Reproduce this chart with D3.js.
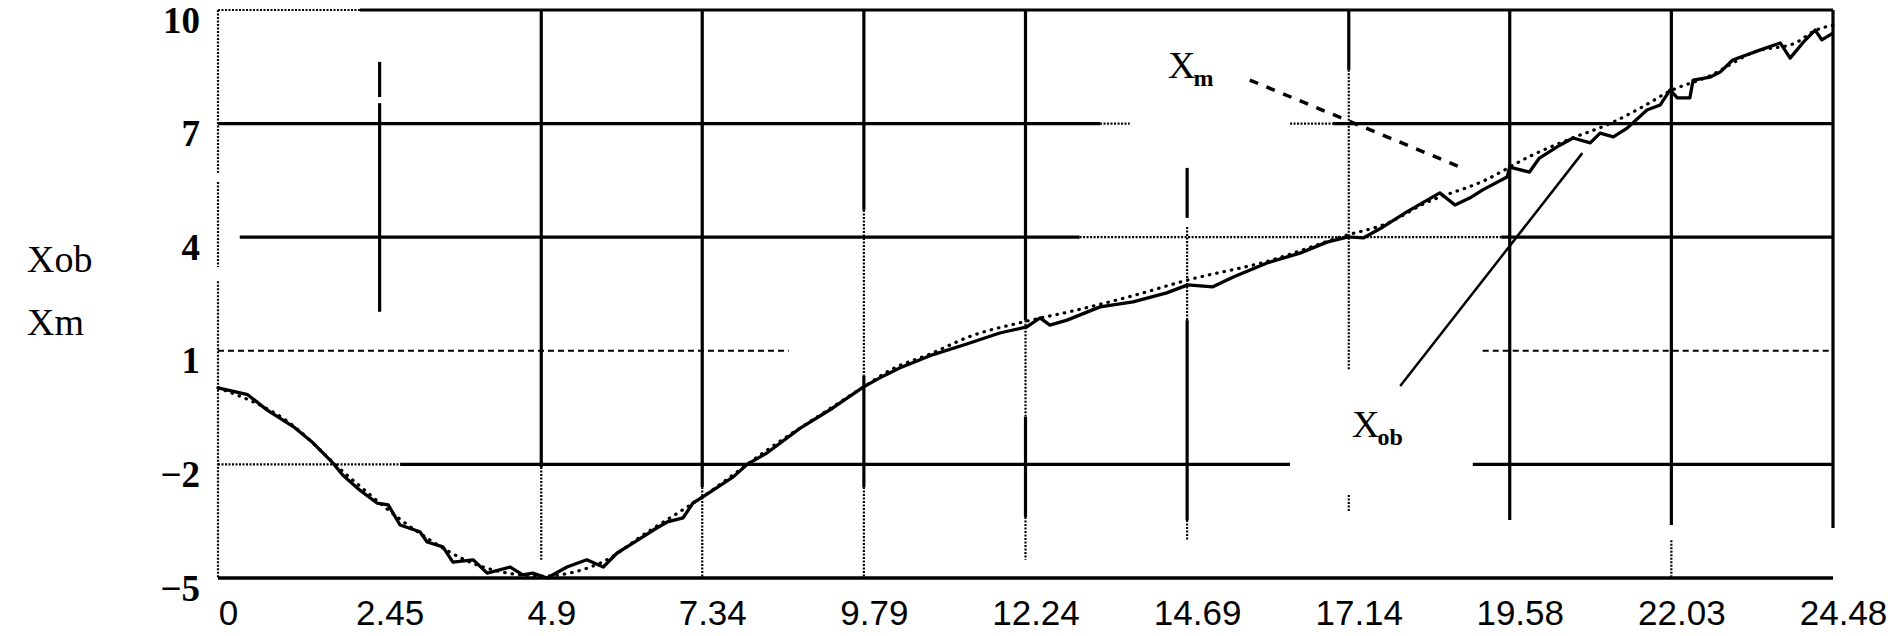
<!DOCTYPE html>
<html>
<head>
<meta charset="utf-8">
<script src="https://cdn.jsdelivr.net/npm/d3@7"></script>
<style>
  html, body { margin: 0; padding: 0; background: #fff; }
  svg { display: block; }
</style>
</head>
<body>
<svg id="chart" width="1900" height="636"></svg>
<script>
// ---------------- data ----------------
const xTickValues = [0, 2.45, 4.9, 7.34, 9.79, 12.24, 14.69, 17.14, 19.58, 22.03, 24.48];
const xTickLabels = ["0", "2.45", "4.9", "7.34", "9.79", "12.24", "14.69", "17.14", "19.58", "22.03", "24.48"];
const yTickValues = [10, 7, 4, 1, -2, -5];
const yTickLabels = ["10", "7", "4", "1", "\u22122", "\u22125"];
const yTitleLines = ["Xob", "Xm"];

// Xob (observed, solid)
const xobT = [0, 0.45, 0.74, 1.14, 1.44, 1.74, 1.89, 2.15, 2.41, 2.58, 2.76, 3.06, 3.17, 3.41, 3.56, 3.87, 4.08, 4.43, 4.62, 4.77,
  4.99, 5.29, 5.59, 5.84, 6.05, 6.29, 6.65, 6.81, 7.05, 7.20, 7.35, 7.81, 8.02, 8.32, 8.82, 9.32, 9.78, 10.08, 10.34, 10.84,
  11.35, 11.85, 12.26, 12.46, 12.61, 12.87, 13.37, 13.87, 14.38, 14.70, 15.08, 15.39, 15.90, 16.40, 16.81, 17.13, 17.36, 17.66, 18.02, 18.52,
  18.75, 18.98, 19.17, 19.54, 19.58, 19.88, 20.03, 20.34, 20.54, 20.80, 20.95, 21.15, 21.36, 21.66, 21.86, 22.01, 22.12, 22.31, 22.36, 22.62,
  22.77, 22.96, 23.37, 23.68, 23.83, 24.03, 24.21, 24.31, 24.48];
const xobV = [0.02, -0.16, -0.56, -1.0, -1.43, -1.96, -2.28, -2.68, -3.02, -3.07, -3.6, -3.78, -4.05, -4.18, -4.58, -4.52, -4.87, -4.71, -4.92, -4.87,
  -5.0, -4.71, -4.52, -4.71, -4.34, -4.08, -3.68, -3.52, -3.41, -3.02, -2.86, -2.33, -2.0, -1.70, -1.05, -0.51, 0.04, 0.33, 0.55, 0.90,
  1.18, 1.47, 1.63, 1.87, 1.68, 1.81, 2.16, 2.29, 2.53, 2.74, 2.69, 2.95, 3.32, 3.58, 3.87, 4.01, 3.98, 4.27, 4.67, 5.17,
  4.85, 5.04, 5.25, 5.59, 5.85, 5.72, 6.09, 6.43, 6.62, 6.49, 6.75, 6.65, 6.88, 7.36, 7.49, 7.89, 7.68, 7.68, 8.15, 8.23,
  8.36, 8.68, 8.94, 9.13, 8.73, 9.15, 9.47, 9.21, 9.39];

// Xm (model, dotted)
const xmT = [0, 1.0, 2.0, 3.0, 4.0, 4.9, 5.8, 6.5, 7.35, 8.3, 9.3, 9.79, 10.2, 10.8, 11.4, 12.2, 13.0, 13.9, 14.7, 15.9,
  17.1, 17.7, 18.3, 19.2, 19.9, 20.5, 21.1, 21.6, 22.0, 22.6, 23.3, 23.9, 24.2, 24.48];
const xmV = [0.02, -0.8, -2.35, -3.75, -4.7, -4.95, -4.6, -3.8, -2.85, -1.65, -0.5, 0.05, 0.5, 0.92, 1.38, 1.76, 2.07, 2.47, 2.87, 3.36,
  4.05, 4.35, 4.9, 5.5, 6.15, 6.6, 7.0, 7.45, 7.85, 8.25, 8.9, 9.12, 9.45, 9.6];

// annotation pointers (data units)
const xmPointerT = [15.64, 18.86];
const xmPointerV = [8.15, 5.83];
const xobPointerT = [17.92, 20.68];
const xobPointerV = [0.07, 6.22];
const annoLabels = [
  { main: "X", sub: "m", t: 14.40, v: 8.2 },
  { main: "X", sub: "ob", t: 17.19, v: -1.28 }
];

// ---------------- grid appearance (scan-like segments, data units) ----------------
const hGrid = [
  { v: 10, segs: [[0, 2.15, "thin"], [2.15, 24.48, "thick"]] },
  { v: 7,  segs: [[0, 13.37, "thick"], [13.37, 13.82, "thin"], [16.25, 16.9, "thin"], [16.9, 24.48, "thick"]] },
  { v: 4,  segs: [[0.33, 13.06, "thick"], [13.06, 19.45, "thin"], [19.45, 24.48, "thick"]] },
  { v: 1,  segs: [[0, 8.65, "dash"], [19.17, 24.48, "dash"]] },
  { v: -2, segs: [[0, 2.76, "thin"], [2.76, 16.25, "thick"], [19.02, 24.48, "thick"]] },
  { v: -5, segs: [[0, 24.48, "axis"]] }
];
const vGrid = [
  { t: 0,     segs: [[10, 5.7, "thin"], [5.46, 3.21, "thin"], [2.84, -5, "thin"]] },
  { t: 2.45,  segs: [[8.63, 7.7, "thick"], [7.54, 2.03, "thick"]] },
  { t: 4.9,   segs: [[10, -2.07, "thick"], [-2.07, -4.52, "thin"]] },
  { t: 7.34,  segs: [[10, -2.6, "thick"], [-2.6, -5, "thin"]] },
  { t: 9.79,  segs: [[10, 4.72, "thick"], [4.72, 0.35, "thin"], [0.35, -2.6, "thick"], [-2.6, -5, "thin"]] },
  { t: 12.24, segs: [[10, 1.81, "thick"], [1.81, -0.75, "thin"], [-0.75, -3.39, "thick"], [-3.39, -4.52, "thin"]] },
  { t: 14.69, segs: [[5.83, 4.51, "thick"], [4.27, 1.81, "thin"], [1.81, -3.47, "thick"], [-3.47, -4.0, "thin"]] },
  { t: 17.14, segs: [[10, 8.42, "thick"], [8.42, 0.49, "thin"], [-2.81, -3.26, "thin"]] },
  { t: 19.58, segs: [[10, -3.47, "thick"]] },
  { t: 22.03, segs: [[10, -3.6, "thick"], [-4.0, -5, "thin"]] },
  { t: 24.48, segs: [[10, -3.68, "thick"]] }
];
const segStyle = {
  thick: { w: 3.2, dash: null },
  axis:  { w: 3.6, dash: null },
  thin:  { w: 2.2, dash: "2,1.5" },
  dash:  { w: 2, dash: "6,4" }
};

// ---------------- drawing ----------------
const svg = d3.select("#chart");
const x = d3.scaleLinear().domain([0, 24.48]).range([218, 1833]);
const y = d3.scaleLinear().domain([-5, 10]).range([578, 10]);
const ink = "#000";

const gGrid = svg.append("g");
hGrid.forEach(h => h.segs.forEach(s => {
  const st = segStyle[s[2]];
  gGrid.append("line")
    .attr("x1", x(s[0])).attr("x2", x(s[1]))
    .attr("y1", y(h.v)).attr("y2", y(h.v))
    .attr("stroke", ink).attr("stroke-width", st.w)
    .attr("stroke-dasharray", st.dash);
}));
vGrid.forEach(g => g.segs.forEach(s => {
  const st = segStyle[s[2]];
  gGrid.append("line")
    .attr("x1", x(g.t)).attr("x2", x(g.t))
    .attr("y1", y(s[0])).attr("y2", y(s[1]))
    .attr("stroke", ink).attr("stroke-width", st.w)
    .attr("stroke-dasharray", st.dash);
}));

// axes (labels only)
const xAxis = d3.axisBottom(x).tickValues(xTickValues)
  .tickFormat((d, i) => xTickLabels[i]).tickSize(0).tickPadding(0);
const gx = svg.append("g").attr("transform", `translate(10, 625)`).call(xAxis);
gx.select(".domain").remove();
gx.selectAll("text")
  .attr("dy", 0).attr("y", 0)
  .attr("font-family", "'Liberation Sans', Arial, sans-serif")
  .attr("font-size", 35).attr("fill", ink);

const yAxis = d3.axisLeft(y).tickValues(yTickValues)
  .tickFormat((d, i) => yTickLabels[i]).tickSize(0).tickPadding(0);
const gy = svg.append("g").attr("transform", `translate(200, 22)`).call(yAxis);
gy.select(".domain").remove();
gy.selectAll("text")
  .attr("dy", 0).attr("x", 0)
  .attr("font-family", "'Liberation Serif', 'Times New Roman', serif")
  .attr("font-weight", "bold")
  .attr("font-size", 37).attr("fill", ink);

// y titles
svg.append("g").selectAll("text").data(yTitleLines).join("text")
  .attr("x", 27).attr("y", (d, i) => 272 + i * 63)
  .attr("font-family", "'Liberation Serif', 'Times New Roman', serif")
  .attr("font-size", 38).attr("fill", ink)
  .text(d => d);

// series
const xmData = xmT.map((t, i) => [t, xmV[i]]);
const xobData = xobT.map((t, i) => [t, xobV[i]]);

svg.append("path").datum(xmData)
  .attr("d", d3.line().x(d => x(d[0])).y(d => y(d[1])).curve(d3.curveMonotoneX))
  .attr("fill", "none").attr("stroke", ink).attr("stroke-width", 3.2)
  .attr("stroke-linecap", "round").attr("stroke-dasharray", "0.5,7");

svg.append("path").datum(xobData)
  .attr("d", d3.line().x(d => x(d[0])).y(d => y(d[1])))
  .attr("fill", "none").attr("stroke", ink).attr("stroke-width", 3.3)
  .attr("stroke-linejoin", "round");

// annotation pointers
svg.append("line")
  .attr("x1", x(xmPointerT[0])).attr("y1", y(xmPointerV[0]))
  .attr("x2", x(xmPointerT[1])).attr("y2", y(xmPointerV[1]))
  .attr("stroke", ink).attr("stroke-width", 3.5).attr("stroke-dasharray", "9,9");
svg.append("line")
  .attr("x1", x(xobPointerT[0])).attr("y1", y(xobPointerV[0]))
  .attr("x2", x(xobPointerT[1])).attr("y2", y(xobPointerV[1]))
  .attr("stroke", ink).attr("stroke-width", 2.5);

const gA = svg.append("g");
annoLabels.forEach(a => {
  const t = gA.append("text")
    .attr("x", x(a.t)).attr("y", y(a.v))
    .attr("font-family", "'Liberation Serif', 'Times New Roman', serif")
    .attr("fill", ink);
  t.append("tspan").attr("font-size", 38).text(a.main);
  t.append("tspan").attr("font-size", 24).attr("font-weight", "bold")
    .attr("dy", 8).attr("dx", -2).text(a.sub);
});
</script>
</body>
</html>
